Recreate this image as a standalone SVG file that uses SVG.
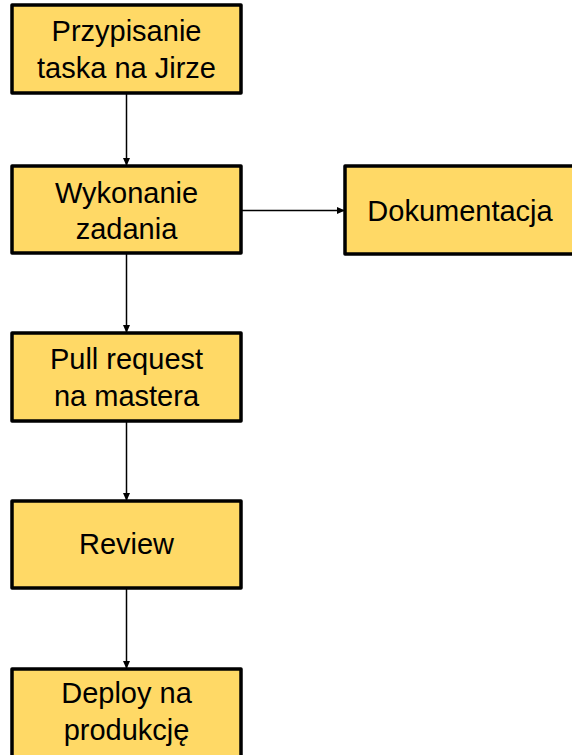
<svg xmlns="http://www.w3.org/2000/svg" width="572" height="755" viewBox="0 0 572 755">
<defs>
<marker id="ah" markerWidth="8" markerHeight="8" refX="7" refY="4" orient="auto" markerUnits="userSpaceOnUse">
<path d="M0,0.5 L8,4 L0,7.5 Z" fill="#000"/>
</marker>
<style>
.box{fill:#FFD966;stroke:#000;stroke-width:3.5;stroke-linejoin:round}
.t{font-family:"Liberation Sans",Arial,sans-serif;font-size:29px;fill:#000;text-anchor:middle}
.c{stroke:#000;stroke-width:1.5;fill:none;marker-end:url(#ah)}
</style>
</defs>
<rect width="572" height="755" fill="#fff"/>
<g id="connectors">
<line class="c" x1="126.5" y1="93" x2="126.5" y2="165"/>
<line class="c" x1="241" y1="210.5" x2="344" y2="210.5"/>
<line class="c" x1="126.5" y1="253" x2="126.5" y2="332"/>
<line class="c" x1="126.5" y1="421" x2="126.5" y2="500"/>
<line class="c" x1="126.5" y1="588" x2="126.5" y2="668"/>
</g>
<g id="n1"><rect class="box" x="12" y="5" width="229" height="88"/><text class="t" x="126.5" y="41">Przypisanie</text><text class="t" x="126.5" y="78">taska na Jirze</text></g>
<g id="n2"><rect class="box" x="12" y="166" width="229" height="87"/><text class="t" x="126.5" y="203">Wykonanie</text><text class="t" x="126.5" y="239">zadania</text></g>
<g id="n3"><rect class="box" x="345" y="166" width="230" height="88"/><text class="t" x="460" y="221">Dokumentacja</text></g>
<g id="n4"><rect class="box" x="12" y="333" width="229" height="88"/><text class="t" x="126.5" y="369">Pull request</text><text class="t" x="126.5" y="406">na mastera</text></g>
<g id="n5"><rect class="box" x="12" y="501" width="229" height="87"/><text class="t" x="126.5" y="554">Review</text></g>
<g id="n6"><rect class="box" x="12" y="669" width="229" height="88"/><text class="t" x="126.5" y="703">Deploy na</text><text class="t" x="126.5" y="740">produkcję</text></g>
</svg>
